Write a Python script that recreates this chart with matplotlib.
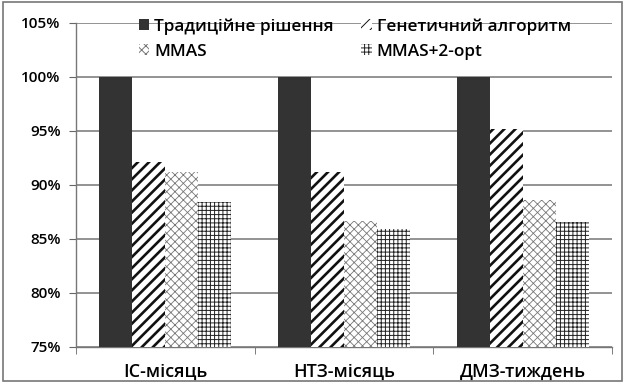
import matplotlib
matplotlib.use("Agg")
import matplotlib.pyplot as plt
import numpy as np
from matplotlib.patches import Rectangle

plt.rcParams['font.family'] = ['Open Sans', 'DejaVu Sans']
plt.rcParams['font.weight'] = 600

categories = ["ІС-місяць", "НТЗ-місяць", "ДМЗ-тиждень"]
series_names = ["Традиційне рішення", "Генетичний алгоритм", "MMAS", "MMAS+2-opt"]
traditional = [100.0, 100.0, 100.0]
genetic = [92.1, 91.2, 95.2]
mmas = [91.2, 86.7, 88.6]
mmas_2opt = [88.4, 85.9, 86.6]
yticks = [75, 80, 85, 90, 95, 100, 105]

# face, edge(=hatch colour), hatch, hatch linewidth
styles = [
    ("#333333", "#333333", None, 1.0),
    ("white", "#111111", "///", 1.9),
    ("white", "#777777", "xxxx", 0.6),
    ("white", "#222222", "++++", 0.7),
]

fig = plt.figure(figsize=(6.25, 3.83), dpi=100)
ax = fig.add_axes([76/625, 1-347/383, 536/625, 324/383])

x = np.arange(len(categories))
w = 0.185
all_series = [traditional, genetic, mmas, mmas_2opt]
handles = []
for i, (vals, name, st) in enumerate(zip(all_series, series_names, styles)):
    fc, ec, hatch, hlw = st
    plt.rcParams['hatch.linewidth'] = hlw
    bars = ax.bar(x + (i - 1.5) * w, vals, w, bottom=0, color=fc, edgecolor=ec,
                  hatch=hatch, linewidth=0, label=name, zorder=3)
    for b in bars:
        if hasattr(b, "set_hatch_linewidth"):
            b.set_hatch_linewidth(hlw)
    handles.append(bars)

ax.set_ylim(75, 105)
ax.set_xlim(-0.5, 2.5)
ax.set_yticks(yticks)
ax.set_yticklabels([f"{t}%" for t in yticks], fontsize=11)
ax.set_xticks(x)
ax.set_xticklabels(categories, fontsize=13)
ax.set_xticks([-0.5, 0.5, 1.5, 2.5], minor=True)
ax.tick_params(axis='x', which='major', length=0, pad=11)
ax.tick_params(axis='x', which='minor', length=5, color='#666666')
ax.tick_params(axis='y', length=5, color='#666666', pad=6)
ax.yaxis.grid(True, color='#808080', linewidth=1.2, zorder=0)
for s in ['top', 'right']:
    ax.spines[s].set_visible(False)
for s in ['left', 'bottom']:
    ax.spines[s].set_color('#777777')
    ax.spines[s].set_linewidth(1.0)

# legend fills column-wise, so reorder to read row by row
order = [0, 2, 1, 3]
leg = ax.legend(handles=[handles[k] for k in order],
                labels=[series_names[k] for k in order],
                ncol=2, frameon=False, fontsize=12.4,
                loc='upper left', bbox_to_anchor=(0.088, 1.062),
                handlelength=0.6, handleheight=0.6, handletextpad=0.3,
                columnspacing=1.6, labelspacing=0.5)

fig.patches.append(Rectangle((0.004, 0.005), 0.991, 0.99, transform=fig.transFigure,
                             fill=False, edgecolor='#777777', linewidth=1.2))

fig.savefig("out.png", dpi=100)
